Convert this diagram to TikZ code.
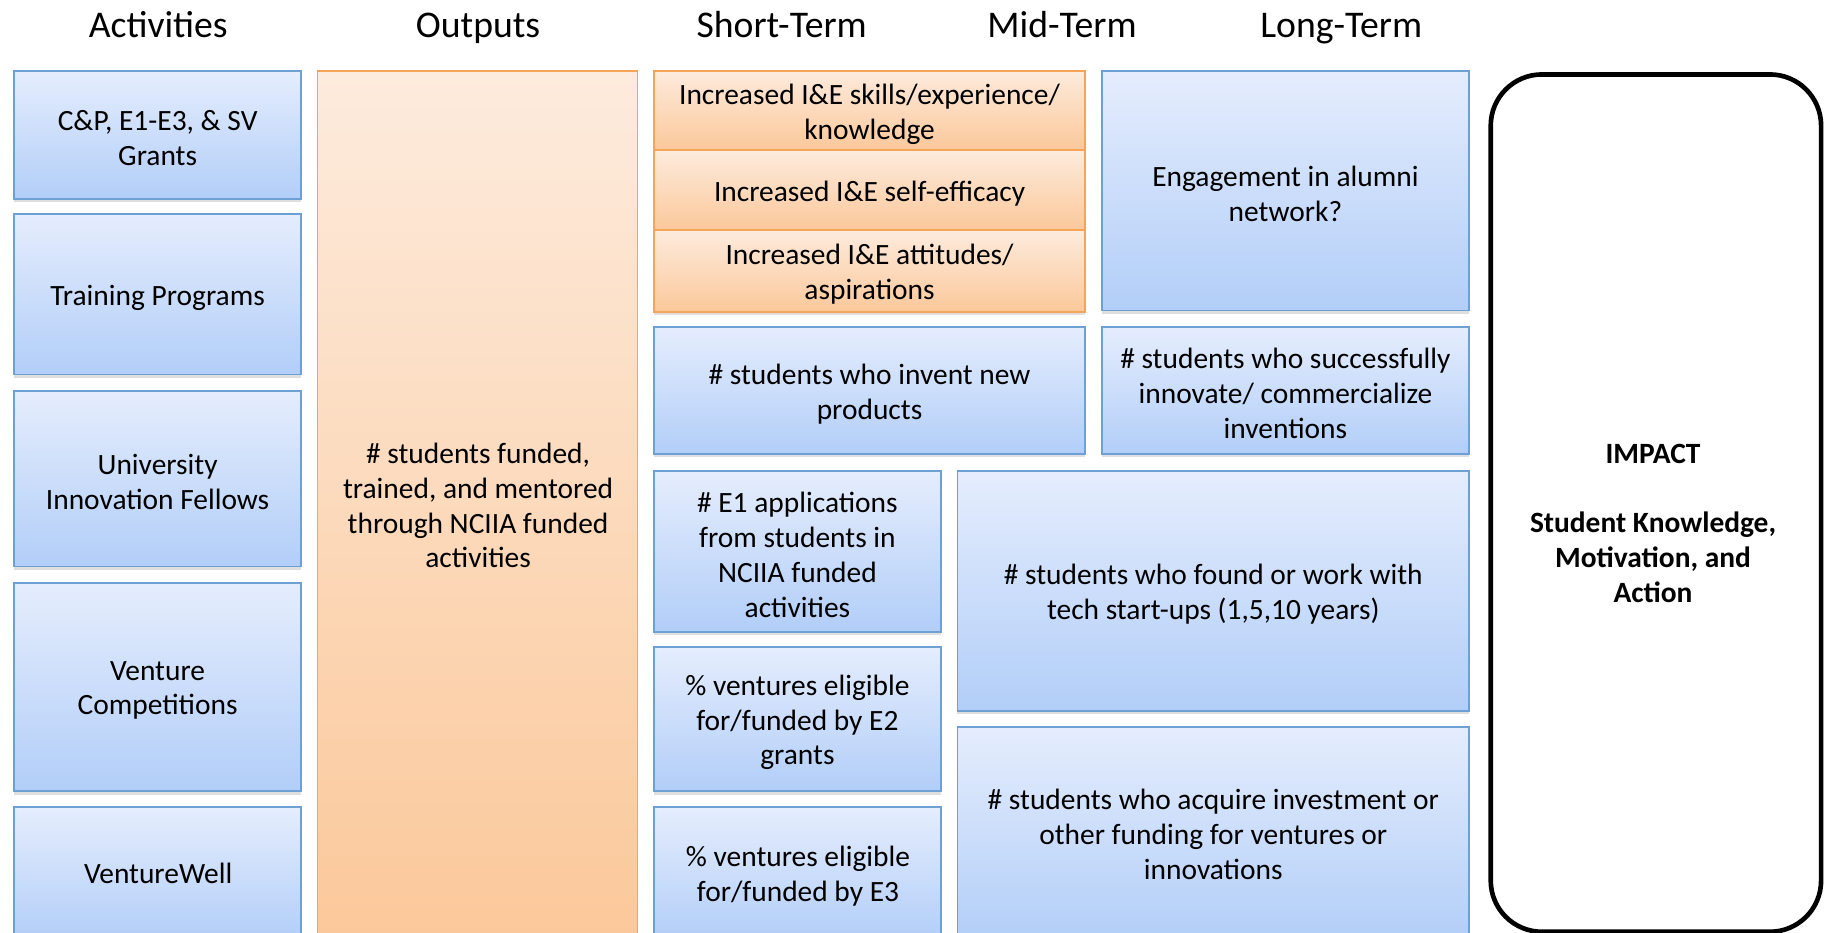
\documentclass[tikz,border=0pt]{standalone}
\usepackage{fontspec}
\setmainfont{Carlito}
\usetikzlibrary{shadows}
\definecolor{btop}{HTML}{E5EDFD}
\definecolor{bbot}{HTML}{B2CEF8}
\definecolor{bline}{HTML}{6E9FD5}
\definecolor{otop}{HTML}{FDEBDD}
\definecolor{obot}{HTML}{FBC89A}
\definecolor{oline}{HTML}{F5A55A}
\tikzset{
  base/.style={anchor=north west, inner sep=0pt, outer sep=0pt, line width=1.5pt,
    drop shadow={shadow xshift=0pt, shadow yshift=-3pt, opacity=0.25}},
  bbox/.style={base, draw=bline, top color=btop, bottom color=bbot},
  obox/.style={base, draw=oline, top color=otop, bottom color=obot},
  txt/.style={align=center, inner sep=0pt, font=\fontsize{25.3}{30}\selectfont},
  head/.style={font=\fontsize{32.4}{38}\selectfont, anchor=base},
}
\begin{document}
\begin{tikzpicture}[x=1pt,y=1pt]
\useasboundingbox (0,0) rectangle (1568,-802);
\fill[white] (0,0) rectangle (1568,-802);
\node[head] (hact) at (136,-32.5) {Activities};
\node[head] (hout) at (411,-32.5) {Outputs};
\node[head] (hst) at (672,-32.5) {Short-Term};
\node[head] (hmt) at (913,-32.5) {Mid-Term};
\node[head] (hlt) at (1153,-32.5) {Long-Term};
\begin{scope}
\clip (0,0) rectangle (1568,-802);
% Activities
\node[bbox, minimum width=247, minimum height=110] (a1) at (12,-61) {};
\node[bbox, minimum width=247, minimum height=138] (a2) at (12,-184) {};
\node[bbox, minimum width=247, minimum height=151] (a3) at (12,-336) {};
\node[bbox, minimum width=247, minimum height=179] (a4) at (12,-501) {};
\node[bbox, minimum width=247, minimum height=114] (a5) at (12,-694) {};
% Outputs
\node[obox, minimum width=275, minimum height=747] (out) at (273,-61) {};
% Short-term orange stack
\node[obox, minimum width=371, minimum height=68] (s1) at (562,-61) {};
\node[obox, minimum width=371, minimum height=69] (s2) at (562,-129) {};
\node[obox, minimum width=371, minimum height=70] (s3) at (562,-198) {};
% Mid / Long-term
\node[bbox, minimum width=316, minimum height=206] (eng) at (947,-61) {};
\node[bbox, minimum width=371, minimum height=109] (inv) at (562,-281) {};
\node[bbox, minimum width=316, minimum height=109] (succ) at (947,-281) {};
\node[bbox, minimum width=247, minimum height=138] (e1) at (562,-405) {};
\node[bbox, minimum width=247, minimum height=124] (e2) at (562,-556) {};
\node[bbox, minimum width=247, minimum height=114] (e3) at (562,-694) {};
\node[bbox, minimum width=440, minimum height=206] (found) at (823,-405) {};
\node[bbox, minimum width=440, minimum height=183] (acq) at (823,-625) {};
\end{scope}
% texts
\node[txt] (a1t) at ([yshift=-3]a1.center) {C\&P, E1-E3, \& SV\\Grants};
\node[txt] (a2t) at ([yshift=-3]a2.center) {Training Programs};
\node[txt] (a3t) at ([yshift=-3]a3.center) {University\\Innovation Fellows};
\node[txt] (a4t) at ([yshift=-3]a4.center) {Venture\\Competitions};
\node[txt] (a5t) at (136,-751) {VentureWell};
\node[txt] (outt) at (411,-434.5) {\# students funded,\\trained, and mentored\\through NCIIA funded\\activities};
\node[txt] (s1t) at ([yshift=-3]s1.center) {Increased I\&E skills/experience/\\knowledge};
\node[txt] (s2t) at ([yshift=-3]s2.center) {Increased I\&E self-efficacy};
\node[txt] (s3t) at ([yshift=-3]s3.center) {Increased I\&E attitudes/\\aspirations};
\node[txt] (engt) at ([yshift=-3]eng.center) {Engagement in alumni\\network?};
\node[txt] (invt) at ([yshift=-3]inv.center) {\# students who invent new\\products};
\node[txt] (succt) at ([yshift=-3]succ.center) {\# students who successfully\\innovate/ commercialize\\inventions};
\node[txt] (e1t) at ([yshift=-3]e1.center) {\# E1 applications\\from students in\\NCIIA funded\\activities};
\node[txt] (e2t) at ([yshift=-3]e2.center) {\% ventures eligible\\for/funded by E2\\grants};
\node[txt] (e3t) at (686,-753) {\% ventures eligible\\for/funded by E3};
\node[txt] (foundt) at ([yshift=-3]found.center) {\# students who found or work with\\tech start-ups (1,5,10 years)};
\node[txt] (acqt) at (1043,-717) {\# students who acquire investment or\\other funding for ventures or\\innovations};
% Impact
\node[draw=black, line width=4pt, rounded corners=44, fill=white, minimum width=284, minimum height=737, anchor=north west, inner sep=0pt] (imp) at (1279.5,-62) {};
\node[txt, font=\bfseries\fontsize{25.3}{30}\selectfont, anchor=north] (imptxt) at (1421,-382) {IMPACT\\[29pt]Student Knowledge,\\Motivation, and\\Action};
\end{tikzpicture}
\end{document}
